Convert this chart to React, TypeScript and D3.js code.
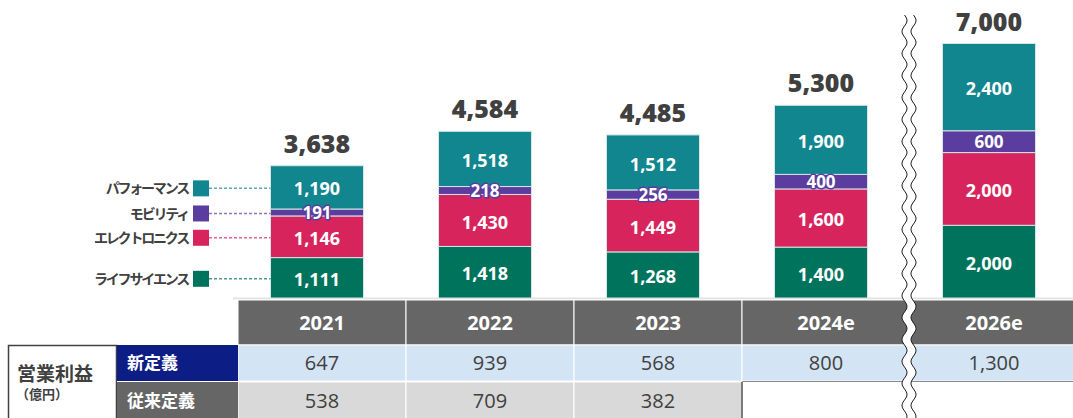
import React from "react";
import * as d3 from "d3";

const years = ["2021", "2022", "2023", "2024e", "2026e"];
const segments = ["ライフサイエンス", "エレクトロニクス", "モビリティ", "パフォーマンス"];
const lifeScience = [1111, 1418, 1268, 1400, 2000];
const electronics = [1146, 1430, 1449, 1600, 2000];
const mobility = [191, 218, 256, 400, 600];
const performance = [1190, 1518, 1512, 1900, 2400];
const totals = [3638, 4584, 4485, 5300, 7000];
const opNew = [647, 939, 568, 800, 1300];
const opOld: (number | null)[] = [538, 709, 382, null, null];
const colors = ["#00735d", "#d8245c", "#5b3d9f", "#11868f"];

const W = 1073;
const H = 418;
const fmt = d3.format(",");
const JP = "'Noto Sans CJK JP', 'Noto Sans', sans-serif";
const NUM = "'Open Sans', 'Noto Sans', sans-serif";

export default function App() {
  const x = d3.scaleBand<string>().domain(years).range([238, 1078]).padding(0);
  const y = d3.scaleLinear().domain([0, 7000]).range([298, 43.5]);
  const barW = 93;
  const barOff = -5;

  const series = [lifeScience, electronics, mobility, performance];
  const rows = years.map((yr, i) => {
    const r: any = { year: yr };
    segments.forEach((s, k) => (r[s] = series[k][i]));
    return r;
  });
  const stack = d3.stack<any>().keys(segments)(rows);

  const bw = x.bandwidth();
  const headerY0 = 300, headerY1 = 345, row2Y1 = 381, row3Y1 = 418;

  // break squiggle path
  const wave = (x0: number) => {
    const pts: [number, number][] = [];
    for (let yy = 15; yy <= 420; yy += 1) pts.push([x0 + 2.5 * Math.sin((yy - 15) / 22 * 2 * Math.PI), yy]);
    return pts;
  };
  const leftW = wave(904.5);
  const rightW = wave(913.5);
  const line = d3.line();
  const fillPath = line(leftW.concat(rightW.slice().reverse()))! + "Z";

  // legend rows: centers of 2021 segments
  const legendYs = stack.map((s) => (y(s[0][0]) + y(s[0][1])) / 2 + 1);
  const bar0Left = x(years[0])! + bw / 2 + barOff - barW / 2;

  return (
    <svg width={W} height={H} style={{ position: "absolute", left: 0, top: 0, background: "#fff" }}>
      {/* top light line */}
      <line x1={233} x2={W} y1={298.5} y2={298.5} stroke="#e2e2e2" strokeWidth={2} />

      {/* bars */}
      {stack.map((s, k) => (
        <g key={k}>
          {s.map((d, i) => {
            const cx = x(years[i])! + bw / 2 + barOff;
            return (
              <rect key={i} x={cx - barW / 2} y={y(d[1])} width={barW} height={y(d[0]) - y(d[1])}
                fill={colors[k]} stroke="#d6e6e6" strokeWidth={1} />
            );
          })}
        </g>
      ))}
      {stack.map((s, k) => (
        <g key={"l" + k}>
          {s.map((d, i) => {
            const cx = x(years[i])! + bw / 2 + barOff;
            const cy = (y(d[0]) + y(d[1])) / 2;
            const small = k === 2;
            return (
              <text key={i} x={cx} y={cy} dy={small ? "0.36em" : "0.45em"} textAnchor="middle" fill="#fff"
                fontFamily={NUM} fontWeight={700} fontSize={small ? 17 : 18}
                stroke={small ? colors[2] : "none"} strokeWidth={small ? 3 : 0}
                strokeLinejoin="round" style={{ paintOrder: "stroke" }}>
                {fmt(series[k][i])}
              </text>
            );
          })}
        </g>
      ))}
      {/* totals */}
      {totals.map((t, i) => (
        <text key={i} x={x(years[i])! + bw / 2 + barOff} y={y(t) - 13} textAnchor="middle"
          fontFamily={NUM} fontWeight={800} fontSize={25} fill="#404040">
          {fmt(t)}
        </text>
      ))}

      {/* legend */}
      {segments.map((s, k) => (
        <g key={s}>
          <line x1={209} x2={bar0Left} y1={legendYs[k]} y2={legendYs[k]} stroke={colors[k]}
            strokeOpacity={0.7} strokeWidth={1.5} strokeDasharray="3,2" />
          <rect x={193} y={legendYs[k] - 8} width={16} height={16} fill={colors[k]} />
          <text x={188} y={legendYs[k]} dy="0.36em" textAnchor="end" fontFamily={JP}
            fontWeight={700} fontSize={14} letterSpacing={-2.2} fill="#404040">{s}</text>
        </g>
      ))}

      {/* table header */}
      {years.map((yr) => (
        <g key={yr}>
          <rect x={x(yr)!} y={headerY0} width={bw} height={headerY1 - headerY0} fill="#666666" stroke="#fff" strokeWidth={1} />
          <text x={x(yr)! + bw / 2} y={(headerY0 + headerY1) / 2} dy="0.36em" textAnchor="middle"
            fontFamily={NUM} fontWeight={700} fontSize={20} fill="#fff">{yr}</text>
        </g>
      ))}
      {/* new definition row */}
      {years.map((yr, i) => (
        <g key={"n" + yr}>
          <rect x={x(yr)!} y={headerY1} width={bw} height={row2Y1 - headerY1} fill="#d3e4f4" stroke="#fff" strokeWidth={1} />
          <text x={x(yr)! + bw / 2} y={(headerY1 + row2Y1) / 2} dy="0.36em" textAnchor="middle"
            fontFamily={NUM} fontWeight={400} fontSize={20} fill="#404040">{fmt(opNew[i])}</text>
        </g>
      ))}
      <line x1={742} x2={W} y1={381.5} y2={381.5} stroke="#8a8a8a" strokeWidth={1.2} />
      {/* old definition row */}
      {years.map((yr, i) =>
        opOld[i] == null ? null : (
          <g key={"o" + yr}>
            <rect x={x(yr)!} y={row2Y1 + 1} width={bw} height={row3Y1 - row2Y1} fill="#d9d9d9" stroke="#fff" strokeWidth={1} />
            <text x={x(yr)! + bw / 2} y={(row2Y1 + row3Y1) / 2 + 1} dy="0.36em" textAnchor="middle"
              fontFamily={NUM} fontWeight={400} fontSize={20} fill="#404040">{fmt(opOld[i] as number)}</text>
          </g>
        )
      )}
      <line x1={742} x2={742} y1={382} y2={H} stroke="#7a7a7a" strokeWidth={2} />

      {/* left labels */}
      <rect x={8.5} y={345.5} width={108} height={H} fill="#fff" stroke="#404040" strokeWidth={1.5} />
      <rect x={117} y={345} width={121} height={36} fill="#0d1d86" />
      <rect x={117} y={382} width={121} height={36} fill="#666666" />
      <line x1={117} x2={238} y1={381.5} y2={381.5} stroke="#fff" strokeWidth={1} />
      <text x={127} y={363} dy="0.36em" fontFamily={JP} fontWeight={700} fontSize={17} fill="#fff">新定義</text>
      <text x={127} y={401} dy="0.36em" fontFamily={JP} fontWeight={700} fontSize={17} fill="#fff">従来定義</text>
      <text x={17} y={374} dy="0.36em" fontFamily={JP} fontWeight={700} fontSize={19} fill="#404040">営業利益</text>
      <text x={16} y={394} dy="0.36em" fontFamily={JP} fontWeight={700} fontSize={13} fill="#404040">（億円）</text>

      {/* break mark */}
      <path d={fillPath} fill="#fff" stroke="none" />
      <path d={line(leftW)!} fill="none" stroke="#222" strokeWidth={1} />
      <path d={line(rightW)!} fill="none" stroke="#222" strokeWidth={1} />
    </svg>
  );
}
